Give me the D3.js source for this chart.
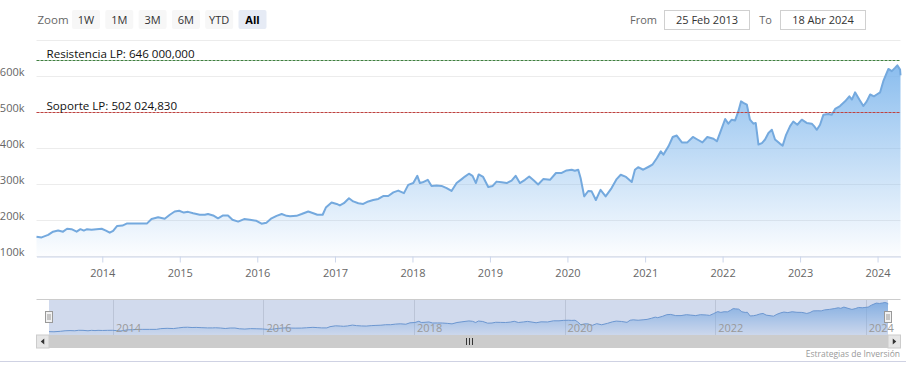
<!DOCTYPE html>
<html>
<head>
<meta charset="utf-8">
<script src="https://cdn.jsdelivr.net/npm/d3@7"></script>
<style>
  body { margin: 0; background: #fff; }
  svg { display: block; font-family: "Open Sans", sans-serif; }
</style>
</head>
<body>
<div id="chart"></div>
<script>
// Weekly-ish closes (values in thousands)
const dates = [
  "2013-02-25","2013-03-21","2013-04-21","2013-05-14","2013-06-07","2013-06-30","2013-07-19","2013-08-09","2013-09-02","2013-09-20","2013-10-06","2013-10-21","2013-11-11","2013-12-05","2013-12-29",
  "2014-01-18","2014-02-05","2014-02-21","2014-03-12","2014-04-06","2014-04-28","2014-05-26","2014-06-27","2014-07-31","2014-08-21","2014-09-21","2014-10-22","2014-11-15","2014-12-08","2014-12-29",
  "2015-01-20","2015-02-09","2015-03-05","2015-04-05","2015-04-29","2015-05-14","2015-06-07","2015-06-30","2015-07-24","2015-08-16","2015-09-06","2015-10-03","2015-10-31","2015-11-27","2015-12-28",
  "2016-01-21","2016-02-13","2016-03-08","2016-04-01","2016-04-25","2016-05-18","2016-06-03","2016-07-04","2016-07-28","2016-08-28","2016-09-21","2016-10-10","2016-11-04","2016-11-19","2016-12-16",
  "2017-01-09","2017-01-24","2017-02-12","2017-03-08","2017-03-28","2017-04-21","2017-05-14","2017-06-07","2017-06-30","2017-07-24","2017-08-16","2017-09-09","2017-10-03","2017-10-26","2017-11-22","2017-12-12",
  "2018-01-05","2018-01-24","2018-02-05","2018-02-18","2018-03-14","2018-04-01","2018-04-25","2018-05-18","2018-06-11","2018-07-04","2018-07-28","2018-08-21","2018-09-05","2018-09-24","2018-10-11","2018-10-27","2018-11-09","2018-11-30","2018-12-24",
  "2019-01-14","2019-02-01","2019-02-25","2019-03-21","2019-04-13","2019-05-02","2019-05-22","2019-06-15","2019-07-05","2019-07-27","2019-08-16","2019-09-09","2019-10-11","2019-11-08","2019-12-05","2019-12-28",
  "2020-01-21","2020-02-05","2020-02-21","2020-03-03","2020-03-20","2020-04-08","2020-04-24","2020-05-14","2020-06-05","2020-06-29","2020-07-27","2020-08-20","2020-09-08","2020-10-03","2020-10-30","2020-11-14","2020-11-29","2020-12-23",
  "2021-01-20","2021-02-04","2021-02-25","2021-03-16","2021-03-28","2021-04-21","2021-05-11","2021-05-30","2021-06-23","2021-07-19","2021-08-14","2021-09-04","2021-09-28","2021-10-21","2021-11-19","2021-12-05","2021-12-23",
  "2022-01-13","2022-01-28","2022-02-13","2022-03-01","2022-03-16","2022-03-29","2022-04-09","2022-04-25","2022-05-10","2022-05-26","2022-06-06","2022-06-19","2022-07-05","2022-07-20","2022-08-05","2022-08-21","2022-09-05","2022-09-29","2022-10-11","2022-10-27","2022-11-15","2022-11-30","2022-12-19",
  "2023-01-09","2023-02-01","2023-02-25","2023-03-08","2023-03-21","2023-04-05","2023-04-21","2023-05-14","2023-05-30","2023-06-15","2023-07-08","2023-08-01","2023-08-21","2023-09-02","2023-09-17","2023-10-07","2023-10-26","2023-11-11","2023-11-27","2023-12-15","2023-12-28",
  "2024-01-13","2024-01-28","2024-02-21","2024-03-08","2024-03-23","2024-04-03","2024-04-16","2024-04-18"
];
const values = [
  155,153,160,169,172,169,177,176,169,176,172,176,174,176,177,
  172,166,171,185,186,192,192,192,192,204,209,205,216,225,227,
  222,224,220,216,216,218,214,206,214,214,202,197,204,202,199,
  191,194,206,213,218,213,212,213,218,225,220,216,216,236,250,
  246,242,248,262,253,248,246,253,257,260,268,268,278,283,276,299,
  304,324,304,306,313,296,297,296,290,282,304,315,322,330,324,304,328,321,293,
  296,308,306,304,311,324,304,313,322,311,300,315,313,332,332,339,
  341,338,341,318,267,282,281,257,285,267,290,315,327,321,307,341,348,341,
  350,355,373,392,383,406,432,436,417,417,432,425,417,432,427,420,448,
  482,469,480,478,503,531,527,522,480,469,471,411,415,425,443,452,425,413,408,438,462,475,466,
  480,471,469,462,452,466,494,496,494,510,518,531,545,536,556,536,518,531,550,545,550,
  556,587,621,615,624,631,619,603
];

const yTicks = [100, 200, 300, 400, 500, 600, 700];
const yLabelTicks = [100, 200, 300, 400, 500, 600];
const xTickYears = ["2014","2015","2016","2017","2018","2019","2020","2021","2022","2023","2024"];
const navTickYears = ["2014","2016","2018","2020","2022","2024"];
const plotLineNames = ["Resistencia LP: 646 000,000", "Soporte LP: 502 024,830"];
const plotLineValues = [646.0, 502.02483];
const plotLineColors = ["#3f7f3f", "#c0413f"];
const zoomButtons = ["1W", "1M", "3M", "6M", "YTD", "All"];
const fromDate = "25 Feb 2013", toDate = "18 Abr 2024";

const width = 906, height = 373;
const plot = { left: 36.5, right: 900.5, top: 40.5, bottom: 256.5 };
const nav = { left: 49, right: 888, top: 299.5, bottom: 335 };

const parse = d3.utcParse("%Y-%m-%d");
const data = dates.map((d, i) => ({ date: parse(d), value: values[i] }));
const domainX = [parse("2013-02-25"), parse("2024-04-18")];

const svg = d3.select("#chart").append("svg")
  .attr("width", width)
  .attr("height", height);

const defs = svg.append("defs");
const grad = defs.append("linearGradient")
  .attr("id", "areaFill")
  .attr("gradientUnits", "userSpaceOnUse")
  .attr("x1", 0).attr("y1", plot.top).attr("x2", 0).attr("y2", plot.bottom);
grad.append("stop").attr("offset", 0).attr("stop-color", "#7cb5ec").attr("stop-opacity", 1);
grad.append("stop").attr("offset", 1).attr("stop-color", "#7cb5ec").attr("stop-opacity", 0.02);

const navGrad = defs.append("linearGradient")
  .attr("id", "navFill")
  .attr("gradientUnits", "userSpaceOnUse")
  .attr("x1", 0).attr("y1", nav.top).attr("x2", 0).attr("y2", nav.bottom);
navGrad.append("stop").attr("offset", 0).attr("stop-color", "#7cb5ec").attr("stop-opacity", 0.9);
navGrad.append("stop").attr("offset", 1).attr("stop-color", "#7cb5ec").attr("stop-opacity", 0.05);

// Scales
const x = d3.scaleUtc().domain(domainX).range([plot.left, plot.right]);
const y = d3.scaleLinear().domain([100, 700]).range([plot.bottom, plot.top]);
const xn = d3.scaleUtc().domain(domainX).range([nav.left, nav.right]);
const yn = d3.scaleLinear().domain([100, 680]).range([nav.bottom, nav.top]);

// Horizontal grid lines
svg.append("g")
  .selectAll("line")
  .data(yTicks)
  .join("line")
  .attr("x1", plot.left).attr("x2", plot.right)
  .attr("y1", d => Math.floor(y(d)) + 0.5)
  .attr("y2", d => Math.floor(y(d)) + 0.5)
  .attr("stroke", "#ececec");

// Y axis labels
const yAxis = svg.append("g")
  .attr("transform", "translate(24.5,0)")
  .call(d3.axisLeft(y).tickValues(yLabelTicks).tickSize(0).tickPadding(0).tickFormat(d => d + "k"));
yAxis.select(".domain").remove();
yAxis.selectAll("text")
  .attr("y", -1).attr("dy", 0)
  .attr("fill", "#666")
  .style("font-size", "11px")
  .style("font-family", "Open Sans");

// Area + line
svg.append("path")
  .datum(data)
  .attr("fill", "url(#areaFill)")
  .attr("d", d3.area().x(d => x(d.date)).y0(plot.bottom).y1(d => y(d.value)));
svg.append("path")
  .datum(data)
  .attr("fill", "none")
  .attr("stroke", "#74a9de")
  .attr("stroke-width", 2)
  .attr("stroke-linejoin", "round")
  .attr("d", d3.line().x(d => x(d.date)).y(d => y(d.value)));

// Plot lines (support / resistance)
plotLineValues.forEach((v, i) => {
  const yy = Math.round(y(v)) + 0.5;
  svg.append("line")
    .attr("x1", plot.left).attr("x2", plot.right)
    .attr("y1", yy).attr("y2", yy)
    .attr("stroke", plotLineColors[i])
    .attr("stroke-dasharray", "3,1");
  svg.append("text")
    .attr("x", plot.left + 10)
    .attr("y", yy - 3)
    .attr("fill", "#111")
    .style("font-size", "11.6px")
    .text(plotLineNames[i]);
});

// X axis
const xAxis = svg.append("g")
  .attr("transform", `translate(0,${plot.bottom})`)
  .call(d3.axisBottom(x)
    .tickValues(xTickYears.map(s => parse(s + "-01-01")))
    .tickFormat(d3.utcFormat("%Y"))
    .tickSize(6).tickSizeOuter(0).tickPadding(7));
xAxis.select(".domain").attr("stroke", "#ccd6eb");
xAxis.selectAll(".tick line").attr("stroke", "#ccd6eb");
xAxis.selectAll("text")
  .attr("fill", "#666")
  .style("font-size", "11px")
  .style("font-family", "Open Sans");

// Range selector
svg.append("text")
  .attr("x", 37.5).attr("y", 24)
  .attr("fill", "#666")
  .style("font-size", "11.5px")
  .text("Zoom");
const btn = svg.append("g").selectAll("g")
  .data(zoomButtons)
  .join("g")
  .attr("transform", (d, i) => `translate(${72 + i * 33.3},10)`);
btn.append("rect")
  .attr("width", 28).attr("height", 19).attr("rx", 2)
  .attr("fill", d => d === "All" ? "#e6ebf5" : "#f7f7f7");
btn.append("text")
  .attr("x", 14).attr("y", 14)
  .attr("text-anchor", "middle")
  .attr("fill", d => d === "All" ? "#000" : "#333")
  .style("font-weight", d => d === "All" ? "bold" : "normal")
  .style("font-size", "11px")
  .text(d => d);

// From / To inputs
[["From", 657, 664.5, fromDate], ["To", 772, 780.5, toDate]].forEach(([lab, lx, bx, val]) => {
  svg.append("text")
    .attr("x", lx).attr("y", 24)
    .attr("text-anchor", "end")
    .attr("fill", "#666")
    .style("font-size", "11px")
    .text(lab);
  svg.append("rect")
    .attr("x", bx).attr("y", 10.5)
    .attr("width", 85).attr("height", 19)
    .attr("fill", "#fff")
    .attr("stroke", "#d0d0d0");
  svg.append("text")
    .attr("x", bx + 42.5).attr("y", 24)
    .attr("text-anchor", "middle")
    .attr("fill", "#333")
    .style("font-size", "11px")
    .text(val);
});

// Navigator
const navG = svg.append("g");
navG.append("g")
  .selectAll("line")
  .data(navTickYears)
  .join("line")
  .attr("x1", d => Math.round(xn(parse(d + "-01-01"))) + 0.5)
  .attr("x2", d => Math.round(xn(parse(d + "-01-01"))) + 0.5)
  .attr("y1", nav.top).attr("y2", nav.bottom)
  .attr("stroke", "#e0e0e0");
navG.append("path")
  .datum(data)
  .attr("fill", "url(#navFill)")
  .attr("d", d3.area().x(d => xn(d.date)).y0(nav.bottom).y1(d => yn(d.value)));
navG.append("path")
  .datum(data)
  .attr("fill", "none")
  .attr("stroke", "#6f9fd6")
  .attr("stroke-width", 1)
  .attr("d", d3.line().x(d => xn(d.date)).y(d => yn(d.value)));
navG.append("rect")
  .attr("x", nav.left).attr("y", nav.top)
  .attr("width", nav.right - nav.left).attr("height", nav.bottom - nav.top)
  .attr("fill", "rgba(102,133,194,0.3)");
navG.append("g")
  .selectAll("text")
  .data(navTickYears)
  .join("text")
  .attr("x", d => xn(parse(d + "-01-01")) + 3)
  .attr("y", 332)
  .attr("fill", "#999")
  .style("font-size", "11px")
  .text(d => d);
navG.append("line")
  .attr("x1", plot.left).attr("x2", plot.right)
  .attr("y1", nav.top).attr("y2", nav.top)
  .attr("stroke", "#cccccc");

// Scrollbar
const sb = { top: 335, h: 13 };
svg.append("rect")
  .attr("x", plot.left).attr("y", sb.top)
  .attr("width", plot.right - plot.left).attr("height", sb.h)
  .attr("fill", "#f2f2f2");
svg.append("rect")
  .attr("x", nav.left).attr("y", sb.top)
  .attr("width", nav.right - nav.left).attr("height", sb.h)
  .attr("fill", "#cccccc");
[[plot.left, -1], [nav.right, 1]].forEach(([bx, dir]) => {
  svg.append("rect")
    .attr("x", bx).attr("y", sb.top)
    .attr("width", 12.5).attr("height", sb.h)
    .attr("fill", "#e6e6e6").attr("stroke", "#cccccc");
  const cx = bx + 6.25, cy = sb.top + sb.h / 2;
  svg.append("path")
    .attr("d", `M${cx + dir * 2},${cy} L${cx - dir * 1.5},${cy - 3} L${cx - dir * 1.5},${cy + 3} Z`)
    .attr("fill", "#333");
});
const gx = (nav.left + nav.right) / 2;
[-3, 0, 3].forEach(o => {
  svg.append("line")
    .attr("x1", Math.round(gx + o) + 0.5).attr("x2", Math.round(gx + o) + 0.5)
    .attr("y1", sb.top + 3).attr("y2", sb.top + sb.h - 3)
    .attr("stroke", "#333");
});

// Navigator handles
[nav.left, nav.right].forEach(hx => {
  const hx0 = Math.round(hx) - 3.5;
  svg.append("rect")
    .attr("x", hx0).attr("y", 311.5)
    .attr("width", 7).attr("height", 11)
    .attr("fill", "#f2f2f2").attr("stroke", "#999");
  [hx0 + 2.5, hx0 + 4.5].forEach(lx => {
    svg.append("line")
      .attr("x1", lx).attr("x2", lx)
      .attr("y1", 314).attr("y2", 320)
      .attr("stroke", "#999");
  });
});

// Bottom separator + credits
svg.append("line")
  .attr("x1", 0).attr("x2", width)
  .attr("y1", 361.5).attr("y2", 361.5)
  .attr("stroke", "#cfd2e3");
svg.append("text")
  .attr("x", 900).attr("y", 357)
  .attr("text-anchor", "end")
  .attr("fill", "#999")
  .style("font-size", "8.5px")
  .text("Estrategias de Inversión");
</script>
</body>
</html>
